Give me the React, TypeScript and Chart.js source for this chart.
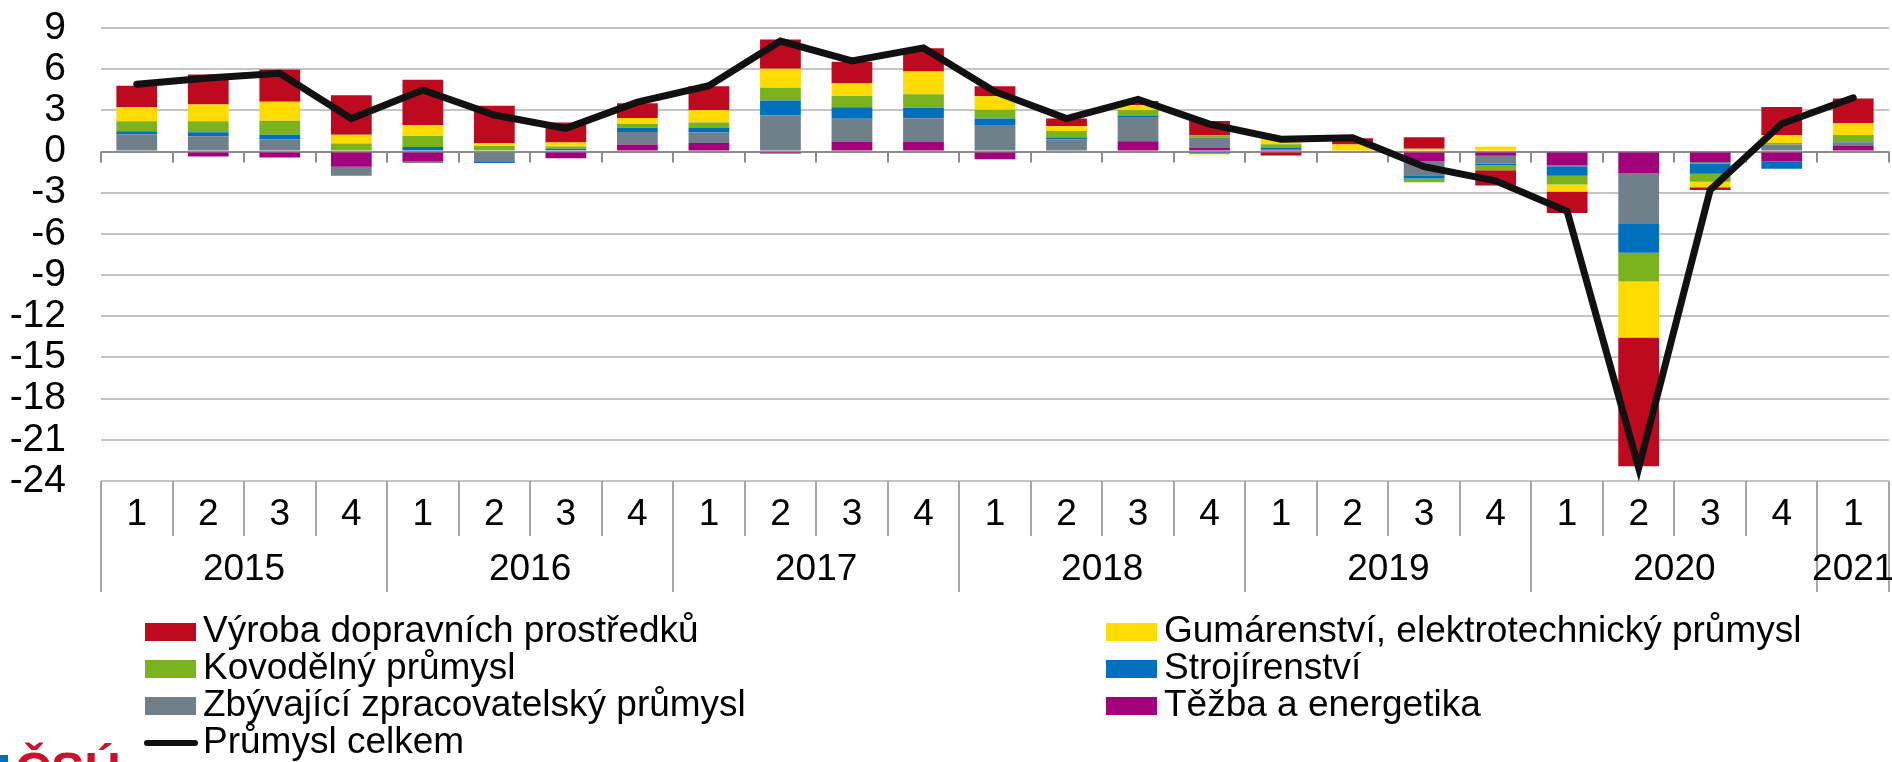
import React, { useEffect, useRef } from "react";
import { Chart, registerables } from "chart.js";

Chart.register(...registerables);

// ---- data ----
const quarters = [
  "1", "2", "3", "4",
  "1", "2", "3", "4",
  "1", "2", "3", "4",
  "1", "2", "3", "4",
  "1", "2", "3", "4",
  "1", "2", "3", "4",
  "1",
];
const years = ["2015", "2016", "2017", "2018", "2019", "2020", "2021"];
const yearSpans = [4, 4, 4, 4, 4, 4, 1];

const tezba = [0.08, -0.36, -0.44, -1.11, -0.68, 0, -0.48, 0.51, 0.63, -0.15, 0.73, 0.7, -0.56, 0, 0.75, 0.29, 0.12, 0, -0.68, -0.31, -1.02, -1.6, -0.77, -0.7, 0.41];
const zbyvajici = [1.16, 1.11, 0.87, -0.65, -0.15, -0.77, 0.1, 0.92, 0.75, 2.64, 1.65, 1.72, 1.94, 0.9, 1.72, 0.73, 0.07, 0, -1.04, -0.58, -0.05, -3.68, -0.1, 0.51, 0.24];
const strojirenstvi = [0.24, 0.29, 0.36, 0, 0.34, -0.07, 0.1, 0.31, 0.34, 1.07, 0.85, 0.77, 0.46, 0.12, 0.12, -0.15, 0.1, 0, -0.24, -0.12, -0.7, -2.1, -0.75, -0.56, 0.05];
const kovodelny = [0.73, 0.8, 1.02, 0.58, 0.8, 0.41, 0.17, 0.27, 0.39, 0.94, 0.82, 0.99, 0.65, 0.48, 0.44, 0.17, 0.25, 0, -0.27, -0.36, -0.63, -2.09, -0.58, 0.12, 0.51];
const gumarenstvi = [1.04, 1.23, 1.38, 0.65, 0.8, 0.22, 0.29, 0.44, 0.9, 1.38, 0.9, 1.65, 0.97, 0.34, 0.36, -0.07, 0.48, 0.51, 0.2, 0.36, -0.51, -4.08, -0.41, 0.58, 0.87];
const vyroba = [1.55, 2.18, 2.35, 2.88, 3.29, 2.71, 1.45, 1.07, 1.74, 2.13, 1.6, 1.69, 0.73, 0.56, 0.29, 1.04, -0.29, 0.46, 0.85, -1.11, -1.57, -9.37, -0.19, 2.03, 1.79];
const celkem = [4.9, 5.35, 5.7, 2.4, 4.48, 2.66, 1.69, 3.6, 4.8, 8.05, 6.6, 7.55, 4.36, 2.4, 3.8, 2.0, 0.9, 1.0, -1.1, -2.13, -4.36, -23.05, -2.8, 2.03, 3.92];

const yMin = -24;
const yMax = 9;
const yStep = 3;

const labels = {
  vyroba: "Výroba dopravních prostředků",
  gumarenstvi: "Gumárenství, elektrotechnický průmysl",
  kovodelny: "Kovodělný průmysl",
  strojirenstvi: "Strojírenství",
  zbyvajici: "Zbývající zpracovatelský průmysl",
  tezba: "Těžba a energetika",
  celkem: "Průmysl celkem",
};

const colors = {
  vyroba: "#BD0A1F",
  gumarenstvi: "#FFDB00",
  kovodelny: "#7BB31F",
  strojirenstvi: "#0070BE",
  zbyvajici: "#70808A",
  tezba: "#A3007B",
  celkem: "#111111",
};

const FONT = "'Liberation Sans', Arial, Helvetica, sans-serif";

// legend layout: [left column keys], [right column keys]
const legendLeft = ["vyroba", "kovodelny", "zbyvajici", "celkem"];
const legendRight = ["gumarenstvi", "strojirenstvi", "tezba"];

const overlayPlugin = {
  id: "overlay",
  beforeDatasetsDraw(chart: any) {
    const { ctx, scales } = chart;
    const x = scales.x;
    const y = scales.y;
    const y0 = y.getPixelForValue(0);
    ctx.save();
    ctx.strokeStyle = "#8c8c8c";
    ctx.lineWidth = 2;
    for (let i = 0; i <= quarters.length; i++) {
      const px = Math.round(x.getPixelForValue(i - 0.5));
      ctx.beginPath();
      ctx.moveTo(px, y0);
      ctx.lineTo(px, y0 + 11);
      ctx.stroke();
    }
    ctx.restore();
  },
  afterDraw(chart: any) {
    const { ctx, chartArea, scales } = chart;
    const x = scales.x;
    const bottom = chartArea.bottom;
    ctx.save();

    // separators under the axis
    const yearBounds = new Set<number>();
    let acc = 0;
    yearBounds.add(0);
    yearSpans.forEach((s) => {
      acc += s;
      yearBounds.add(acc);
    });
    ctx.strokeStyle = "#a6a6a6";
    ctx.lineWidth = 2;
    for (let i = 0; i <= quarters.length; i++) {
      const px = Math.round(x.getPixelForValue(i - 0.5));
      ctx.beginPath();
      ctx.moveTo(px, bottom);
      ctx.lineTo(px, bottom + (yearBounds.has(i) ? 111 : 55));
      ctx.stroke();
    }

    // year labels
    ctx.fillStyle = "#000";
    ctx.font = `37px ${FONT}`;
    ctx.textAlign = "center";
    ctx.textBaseline = "middle";
    let start = 0;
    years.forEach((yr, k) => {
      const end = start + yearSpans[k];
      const cx = (x.getPixelForValue(start - 0.5) + x.getPixelForValue(end - 0.5)) / 2;
      ctx.fillText(yr, cx, bottom + 89);
      start = end;
    });

    // legend
    const rowY = [632, 669, 706, 743];
    const drawItem = (key: string, sx: number, tx: number, cy: number) => {
      const ds = chart.data.datasets.find((d: any) => d.key === key);
      if (!ds) return;
      if (ds.type === "line") {
        ctx.strokeStyle = ds.borderColor;
        ctx.lineWidth = 6;
        ctx.lineCap = "round";
        ctx.beginPath();
        ctx.moveTo(sx + 2, cy);
        ctx.lineTo(sx + 50, cy);
        ctx.stroke();
      } else {
        ctx.fillStyle = ds.backgroundColor;
        ctx.fillRect(sx, cy - 9, 51, 18);
      }
      ctx.fillStyle = "#000";
      ctx.font = `37px ${FONT}`;
      ctx.textAlign = "left";
      ctx.textBaseline = "middle";
      ctx.fillText(ds.label, tx, cy);
    };
    legendLeft.forEach((k, i) => drawItem(k, 145, 203, rowY[i]));
    legendRight.forEach((k, i) => drawItem(k, 1106, 1164, rowY[i]));

    // logo fragment
    ctx.fillStyle = "#0072BC";
    ctx.fillRect(0, 755, 8, 7);
    ctx.fillStyle = "#CE1126";
    ctx.font = `bold 50px ${FONT}`;
    ctx.textAlign = "left";
    ctx.textBaseline = "alphabetic";
    ctx.fillText("ČSÚ", 15, 788);

    ctx.restore();
  },
};

function barDs(key: keyof typeof colors, data: number[]) {
  return {
    key,
    type: "bar" as const,
    label: (labels as any)[key],
    data,
    backgroundColor: colors[key],
    borderWidth: 0,
    stack: "s",
    order: 1,
    barPercentage: 0.57,
    categoryPercentage: 1,
  };
}

export default function App() {
  const canvasRef = useRef<HTMLCanvasElement | null>(null);

  useEffect(() => {
    document.documentElement.style.overflow = "hidden";
    document.body.style.margin = "0";
    const canvas = canvasRef.current;
    if (!canvas) return;
    Chart.defaults.font.family = FONT;

    const chart = new Chart(canvas, {
      type: "bar",
      data: {
        labels: quarters,
        datasets: [
          {
            key: "celkem",
            type: "line",
            label: labels.celkem,
            data: celkem,
            borderColor: colors.celkem,
            backgroundColor: colors.celkem,
            borderWidth: 7,
            pointRadius: 0,
            tension: 0,
            borderCapStyle: "round",
            fill: false,
            order: 0,
          } as any,
          barDs("tezba", tezba),
          barDs("zbyvajici", zbyvajici),
          barDs("strojirenstvi", strojirenstvi),
          barDs("kovodelny", kovodelny),
          barDs("gumarenstvi", gumarenstvi),
          barDs("vyroba", vyroba),
        ],
      },
      options: {
        animation: false,
        responsive: true,
        maintainAspectRatio: false,
        layout: { padding: { top: 28, right: 3, left: 0, bottom: 0 } },
        plugins: {
          legend: { display: false },
          tooltip: { enabled: false },
          title: { display: false },
        },
        scales: {
          x: {
            type: "category",
            stacked: true,
            offset: true,
            grid: { display: false, drawTicks: false },
            border: { display: false },
            ticks: {
              color: "#000",
              font: { size: 37, family: FONT },
              padding: 12,
              autoSkip: false,
              maxRotation: 0,
            },
            afterFit: (scale: any) => {
              scale.height = 281;
              scale.paddingLeft = 0;
              scale.paddingRight = 0;
            },
          },
          y: {
            type: "linear",
            stacked: true,
            min: yMin,
            max: yMax,
            grid: {
              color: (ctx: any) => (ctx.tick && ctx.tick.value === 0 ? "#8c8c8c" : "#c4c4c4"),
              lineWidth: 2,
              drawTicks: false,
            },
            border: { display: false },
            ticks: {
              stepSize: yStep,
              color: "#000",
              font: { size: 39, family: FONT },
              padding: 35,
              autoSkip: false,
            },
            afterFit: (scale: any) => {
              scale.width = 101;
              scale.paddingTop = 0;
              scale.paddingBottom = 0;
            },
          },
        },
      } as any,
      plugins: [overlayPlugin],
    });

    return () => chart.destroy();
  }, []);

  return (
    <div style={{ position: "relative", width: "1892px", height: "762px" }}>
      <canvas ref={canvasRef} />
    </div>
  );
}
